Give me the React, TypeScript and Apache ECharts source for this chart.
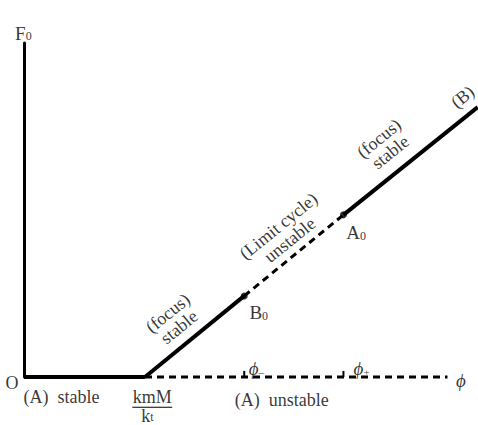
import React, { useEffect, useRef } from "react";
import * as echarts from "echarts";

// Branch (A): F0 = 0
const stableA = [[0, 0], [1, 0]]; // solid, up to kmM/kt
const unstableA = [[1, 0], [3.5, 0]]; // dashed
// Branch (B)
const focusLow = [[1, 0], [1.82, 0.67]]; // solid, to B0
const limitCycle = [[1.82, 0.67], [2.64, 1.34]]; // dashed, B0 -> A0
const focusHigh = [[2.64, 1.34], [3.75, 2.23]]; // solid, A0 -> (B)
const criticalPoints = [[1.82, 0.67], [2.64, 1.34]]; // B0, A0
const phiTicks = [1.82, 2.64]; // phi-, phi+

const FONT = "Liberation Serif";
const rich: any = {
  t: { fontFamily: FONT, fontSize: 18, color: "#000", lineHeight: 18 },
  big: { fontFamily: FONT, fontSize: 19, color: "#000", lineHeight: 18 },
  sub: { fontFamily: FONT, fontSize: 12, color: "#000", verticalAlign: "bottom", lineHeight: 18 },
  ts: { fontFamily: FONT, fontSize: 18, color: "#000", lineHeight: 14 },
  tsub: { fontFamily: FONT, fontSize: 12, color: "#000", verticalAlign: "bottom", lineHeight: 14 },
  phi: { fontFamily: FONT, fontSize: 19, color: "#000", fontStyle: "italic", lineHeight: 18 },
  psub: { fontFamily: FONT, fontSize: 11, color: "#000", verticalAlign: "bottom", lineHeight: 18 },
};

const labels = [
  { text: "{big|F}{sub|0}", at: [-0.005, 2.84] },
  { text: "{t|O}", at: [-0.1, -0.05] },
  { text: "{t|(A)  stable}", at: [0.31, -0.165] },
  { text: "{ts|kmM}", at: [1.06, -0.165] },
  { text: "{ts|k}{tsub|t}", at: [1.02, -0.32] },
  { text: "{t|(A)  unstable}", at: [2.13, -0.19] },
  { text: "{phi|ϕ}{psub|–}", at: [1.92, 0.074] },
  { text: "{phi|ϕ}{psub|+}", at: [2.79, 0.074] },
  { text: "{phi|ϕ}", at: [3.61, -0.025] },
  { text: "{big|B}{sub|0}", at: [1.94, 0.53] },
  { text: "{big|A}{sub|0}", at: [2.745, 1.19] },
  { text: "{t|(focus)}\n{t|stable}", at: [1.235, 0.47], rotate: 39 },
  { text: "{t|(Limit cycle)}\n{t|unstable}", at: [2.15, 1.19], rotate: 39 },
  { text: "{t|(focus)}\n{t|stable}", at: [2.98, 1.915], rotate: 39 },
  { text: "{t|(B)}", at: [3.625, 2.315], rotate: 39 },
];

const fracBar = [[0.895, -0.25], [1.225, -0.25]];

export default function App() {
  const ref = useRef<HTMLDivElement>(null);
  useEffect(() => {
    const chart = echarts.init(ref.current!, null, { renderer: "svg" });
    const seg = (data: number[][], dashed: boolean, width = 4) => ({
      type: "line",
      data,
      symbol: "none",
      clip: false,
      silent: true,
      lineStyle: { color: "#000", width, type: dashed ? [7, 5] : "solid", cap: "butt" },
    });
    chart.setOption({
      animation: false,
      backgroundColor: "#fff",
      grid: { left: 24, right: 0, top: 43, bottom: 48 },
      xAxis: {
        type: "value",
        min: 0,
        max: 3.752,
        axisLine: { show: false },
        axisTick: { show: false },
        axisLabel: { show: false },
        splitLine: { show: false },
      },
      yAxis: {
        type: "value",
        min: 0,
        max: 2.76,
        axisLine: { show: true, lineStyle: { color: "#000", width: 3 } },
        axisTick: { show: false },
        axisLabel: { show: false },
        splitLine: { show: false },
      },
      series: [
        seg(stableA, false, 4),
        seg(unstableA, true, 3),
        seg(focusLow, false, 4),
        seg(limitCycle, true, 3),
        seg(focusHigh, false, 4),
        ...phiTicks.map((x) => seg([[x, 0], [x, 0.05]], false, 2)),
        seg(fracBar, false, 1.2),
        {
          type: "scatter",
          data: criticalPoints,
          symbol: "circle",
          symbolSize: 7,
          itemStyle: { color: "#000" },
          silent: true,
          clip: false,
        },
        {
          type: "scatter",
          symbolSize: 0,
          clip: false,
          silent: true,
          data: labels.map((l) => ({
            value: l.at,
            label: {
              show: true,
              position: "inside",
              formatter: l.text,
              rotate: l.rotate || 0,
              align: "center",
              verticalAlign: "middle",
              rich,
            },
          })),
        },
      ],
    });
    return () => chart.dispose();
  }, []);
  return (
    <div
      ref={ref}
      style={{ position: "fixed", left: 0, top: 0, width: 478, height: 425, background: "#fff" }}
    />
  );
}
